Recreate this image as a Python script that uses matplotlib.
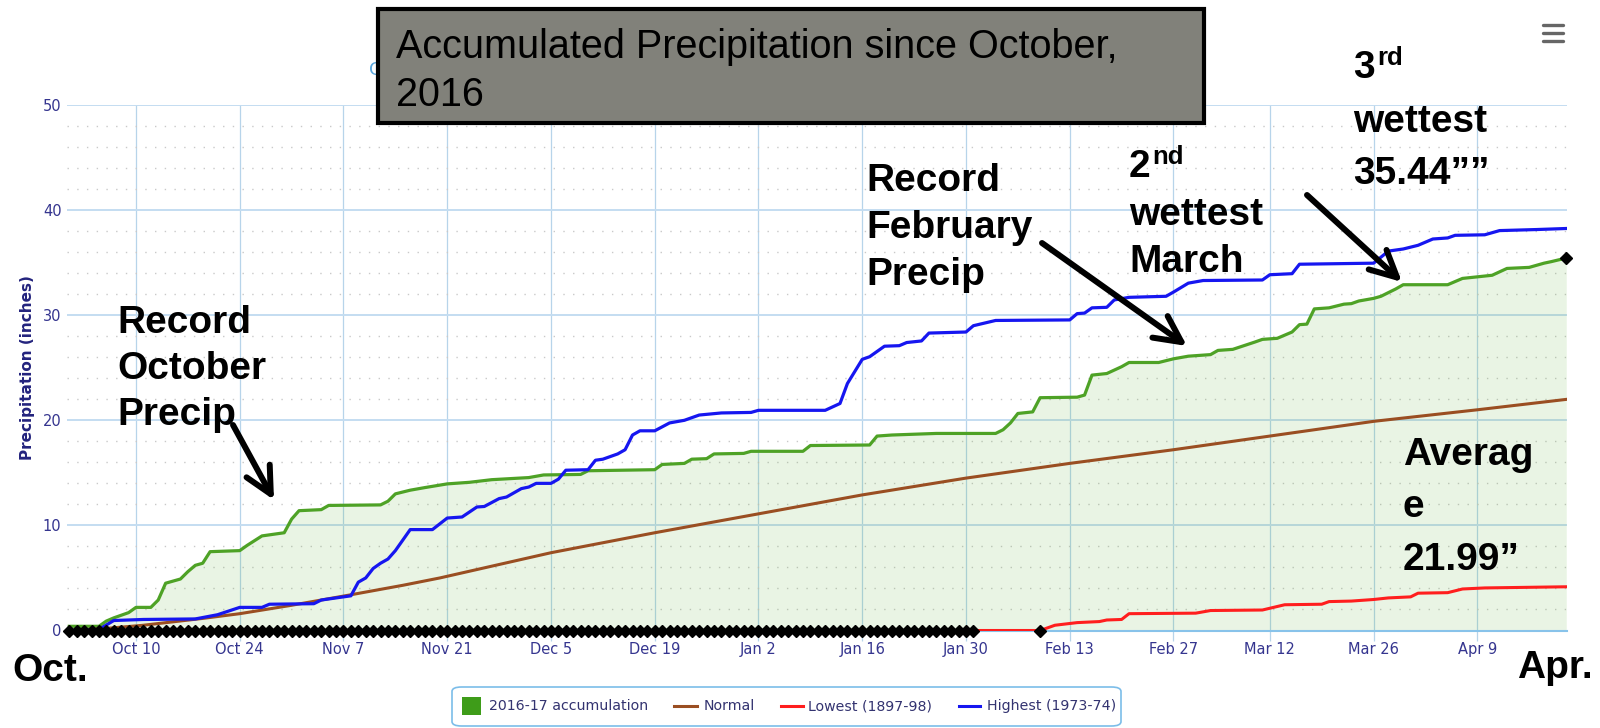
import numpy as np
import matplotlib
matplotlib.use("Agg")
import matplotlib.pyplot as plt
import matplotlib.dates as mdates
from matplotlib.patches import Rectangle, FancyBboxPatch, FancyArrowPatch
from matplotlib.lines import Line2D

# ---------------- data (days since 2016-10-01, inches) ----------------
START = "2016-10-01"

acc_days = [0, 4, 5, 6, 8, 9, 11, 12, 13, 15, 16, 17, 18, 19, 23, 24, 26, 28, 29, 30,
            31, 34, 35, 42, 43, 44, 46, 48, 51, 54, 57, 62, 64, 69, 70, 79, 80, 83, 84, 86,
            87, 91, 92, 99, 100, 108, 109, 111, 117, 125, 126, 127, 128, 130, 131, 136, 137, 138, 140, 142,
            143, 147, 149, 151, 154, 155, 157, 160, 161, 163, 165, 166, 167, 168, 170, 172, 173, 174, 176, 177,
            179, 180, 186, 188, 190, 192, 194, 197, 199, 200, 202]
acc_vals = [0.4, 0.4, 0.9, 1.2, 1.7, 2.2, 2.2, 2.9, 4.5, 4.9, 5.6, 6.2, 6.4, 7.5, 7.6, 8.1, 9.0, 9.2, 9.3, 10.6,
            11.4, 11.5, 11.9, 11.95, 12.3, 13.0, 13.35, 13.6, 13.95, 14.1, 14.35, 14.55, 14.8, 14.85, 15.2, 15.3, 15.8, 15.9, 16.3, 16.35,
            16.8, 16.85, 17.05, 17.05, 17.6, 17.65, 18.5, 18.6, 18.75, 18.75, 19.1, 19.75, 20.65, 20.8, 22.15, 22.2, 22.4, 24.3, 24.45, 25.1,
            25.5, 25.5, 25.85, 26.1, 26.25, 26.65, 26.75, 27.45, 27.7, 27.8, 28.4, 29.1, 29.15, 30.6, 30.7, 31.05, 31.1, 31.35, 31.6, 31.8,
            32.5, 32.9, 32.9, 33.5, 33.65, 33.8, 34.45, 34.55, 34.95, 35.1, 35.44]

normal_days = [0, 5, 10, 18, 23, 30, 38, 45, 50, 55, 65, 79, 93, 107, 121, 135, 149, 161, 176, 190, 202]
normal_vals = [0, 0.2, 0.5, 1.15, 1.6, 2.4, 3.4, 4.3, 5.0, 5.8, 7.4, 9.3, 11.1, 12.9, 14.5, 15.9, 17.2, 18.4, 19.9, 21.0, 21.99]

low_days = [0, 131, 133, 136, 139, 140, 142, 143, 152, 154, 161, 164, 169, 170, 173, 175, 176, 178, 181, 182, 186, 188, 191, 202]
low_vals = [0, 0, 0.5, 0.75, 0.85, 1.0, 1.05, 1.6, 1.65, 1.9, 1.95, 2.45, 2.5, 2.75, 2.8, 2.9, 2.95, 3.1, 3.2, 3.55, 3.6, 3.95, 4.05, 4.16]

high_days = [0, 4, 6, 10, 17, 20, 23, 26, 27, 33, 34, 37, 38, 39, 40, 41, 42, 43, 44, 46,
             49, 51, 53, 55, 56, 58, 59, 61, 62, 63, 65, 66, 67, 70, 71, 72, 74, 75, 76, 77,
             79, 81, 83, 85, 88, 92, 93, 102, 104, 105, 107, 108, 110, 112, 113, 115, 116, 121, 122, 125,
             135, 136, 137, 138, 140, 141, 143, 148, 149, 151, 153, 161, 162, 165, 166, 176, 178, 180, 182, 184,
             186, 187, 191, 193, 198, 202]
high_vals = [0.0, 0.1, 0.95, 1.05, 1.1, 1.5, 2.2, 2.2, 2.5, 2.55, 2.9, 3.2, 3.3, 4.6, 5.0, 5.9, 6.4, 6.8, 7.6, 9.6,
             9.6, 10.7, 10.8, 11.75, 11.8, 12.55, 12.7, 13.5, 13.65, 14.0, 14.0, 14.4, 15.25, 15.3, 16.2, 16.3, 16.8, 17.2, 18.6, 19.0,
             19.0, 19.75, 20.0, 20.5, 20.7, 20.75, 20.95, 20.95, 21.6, 23.5, 25.8, 26.05, 27.05, 27.1, 27.4, 27.55, 28.3, 28.4, 29.0, 29.5,
             29.55, 30.15, 30.2, 30.7, 30.75, 31.45, 31.7, 31.8, 32.2, 33.05, 33.3, 33.35, 33.85, 33.95, 34.85, 34.95, 36.1, 36.3, 36.65, 37.25,
             37.35, 37.6, 37.65, 38.05, 38.15, 38.25]

# black diamond markers: daily zero markers Oct 1 - Jan 31, one on Feb 9, and the final value
zero_marker_first, zero_marker_last = 0, 122
extra_marker_days = [131, 202]
extra_marker_vals = [0, 35.44]

series_names = ["2016-17 accumulation", "Normal", "Lowest (1897-98)", "Highest (1973-74)"]
series_colors = ["#4ea226", "#9a4e22", "#ff1e1e", "#1616f0"]

tick_dates = ["2016-10-10", "2016-10-24", "2016-11-07", "2016-11-21", "2016-12-05", "2016-12-19",
              "2017-01-02", "2017-01-16", "2017-01-30", "2017-02-13", "2017-02-27", "2017-03-12",
              "2017-03-26", "2017-04-09"]
tick_labels = ["Oct 10", "Oct 24", "Nov 7", "Nov 21", "Dec 5", "Dec 19", "Jan 2", "Jan 16",
               "Jan 30", "Feb 13", "Feb 27", "Mar 12", "Mar 26", "Apr 9"]
y_major = [0, 10, 20, 30, 40, 50]

title_text = "Accumulated Precipitation since October,\n2016"
y_label = "Precipitation (inches)"

# ---------------- figure ----------------
W, H = 1600, 728
fig = plt.figure(figsize=(W / 100, H / 100), dpi=100)
ax = fig.add_axes([67 / W, (H - 630.5) / H, 1500 / W, 525.5 / H])

x0 = mdates.date2num(np.datetime64(START))
def dx(days):
    return x0 + np.asarray(days, dtype=float)

ax.fill_between(dx(acc_days), acc_vals, 0, color="#5aae32", alpha=0.13, lw=0, zorder=1)
ax.plot(dx(acc_days), acc_vals, color=series_colors[0], lw=2.3, zorder=3, solid_joinstyle="round")
ax.plot(dx(normal_days), normal_vals, color=series_colors[1], lw=2.2, zorder=4)
ax.plot(dx(low_days), low_vals, color=series_colors[2], lw=2.2, zorder=5)
ax.plot(dx(high_days), high_vals, color=series_colors[3], lw=2.3, zorder=6, solid_joinstyle="round")

zero_days = np.arange(zero_marker_first, zero_marker_last + 1)
ax.plot(dx(zero_days), np.zeros(len(zero_days)), "D", color="black", ms=5.8, zorder=7, clip_on=False)
ax.plot(dx(extra_marker_days), extra_marker_vals, "D", color="black", ms=5.8, zorder=7, clip_on=False)

ax.set_xlim(x0 - 0.31, x0 + 202.1)
ax.set_ylim(0, 50)

# grid
ax.set_yticks(y_major)
ax.set_yticks([v for v in range(2, 50, 2) if v % 10], minor=True)
ax.set_xticks([mdates.date2num(np.datetime64(d)) for d in tick_dates])
ax.set_xticklabels(tick_labels)
ax.grid(axis="y", which="major", color="#c4ddf1", lw=1.4, zorder=0.5)
ax.grid(axis="y", which="minor", color="#c9c9c9", lw=1.0, linestyle=(0, (1, 6)), zorder=0.5)
ax.grid(axis="x", which="major", color="#b7d4ea", lw=0.9, zorder=0.5)
ax.set_axisbelow(True)

for s in ["top", "right", "left"]:
    ax.spines[s].set_visible(False)
ax.spines["bottom"].set_color("#88c3ea")
ax.spines["bottom"].set_linewidth(1.5)
ax.spines["bottom"].set_zorder(2)

lab_color = "#35358f"
ax.tick_params(axis="x", which="major", direction="out", length=7, width=0.9, color="#b7d4ea",
               pad=1.5, labelsize=10.5, labelcolor=lab_color)
ax.tick_params(axis="y", which="both", length=0, pad=4, labelsize=10.5, labelcolor=lab_color)
ax.set_ylabel(y_label, fontsize=11, fontweight="bold", color="#23237d")
ax.yaxis.set_label_coords(-0.0215, 0.5)

# ---------------- overlays (figure pixel coords) ----------------
def fx(x):
    return x / W
def fy(y):
    return 1 - y / H

BOLD = dict(family="Liberation Sans", fontweight="bold", color="black", va="baseline",
            ha="left", fontsize=28)

# hidden chart title letter peeking out behind the box
fig.text(fx(369), fy(75), "C", fontsize=13, color="#5aa6dc", va="baseline", zorder=1)

# title box
fig.patches.append(Rectangle((fx(378), fy(123)), (1204 - 378) / W, (123 - 9) / H,
                             transform=fig.transFigure, facecolor="#81817a",
                             edgecolor="black", lw=3.0, zorder=5))
t_lines = title_text.split("\n")
fig.text(fx(396), fy(58), t_lines[0], family="Liberation Sans", fontsize=28.5,
         color="black", va="baseline", zorder=6)
fig.text(fx(396), fy(106), t_lines[1], family="Liberation Sans", fontsize=28.5,
         color="black", va="baseline", zorder=6)

# hamburger menu icon
for yy in (25, 33, 41):
    fig.lines.append(Line2D([fx(1543), fx(1563)], [fy(yy), fy(yy)], transform=fig.transFigure,
                            color="#666666", lw=2.4, solid_capstyle="round"))

# annotations
for txt, y in (("Record", 333), ("October", 379), ("Precip", 425)):
    fig.text(fx(117), fy(y), txt, **BOLD)
for txt, y in (("Record", 191), ("February", 238), ("Precip", 285)):
    fig.text(fx(866), fy(y), txt, **BOLD)
fig.text(fx(1129), fy(177), "2", **BOLD)
fig.text(fx(1152), fy(164), "nd", **{**BOLD, "fontsize": 18.5})
for txt, y in (("wettest", 225), ("March", 272)):
    fig.text(fx(1129), fy(y), txt, **BOLD)
fig.text(fx(1353), fy(78), "3", **BOLD)
fig.text(fx(1377), fy(65), "rd", **{**BOLD, "fontsize": 18.5})
for txt, y in (("wettest", 132), ("35.44\u201d\u201d", 184)):
    fig.text(fx(1353), fy(y), txt, **BOLD)
for txt, y in (("Averag", 465), ("e", 517), ("21.99\u201d", 570)):
    fig.text(fx(1403), fy(y), txt, **BOLD)
fig.text(fx(12), fy(681), "Oct.", **BOLD)
fig.text(fx(1517), fy(678), "Apr.", **BOLD)

def arrow(x0_, y0_, x1_, y1_):
    a = FancyArrowPatch((fx(x0_), fy(y0_)), (fx(x1_), fy(y1_)), transform=fig.transFigure,
                        arrowstyle="->,head_length=1.9,head_width=0.95", mutation_scale=10,
                        lw=4.3, color="black", shrinkA=0, shrinkB=0, zorder=8)
    fig.patches.append(a)

arrow(233, 425, 274, 500)
arrow(1042, 243, 1187, 346)
arrow(1307, 195, 1402, 282)

# legend
fig.patches.append(FancyBboxPatch((fx(452), fy(726)), (1121 - 452) / W, (726 - 687) / H,
                                  boxstyle="round,pad=0,rounding_size=0.006",
                                  transform=fig.transFigure, facecolor="white",
                                  edgecolor="#7cbde9", lw=1.2, zorder=4))
leg_y = 706
fig.patches.append(Rectangle((fx(462), fy(715)), 19 / W, 18 / H, transform=fig.transFigure,
                             facecolor="#3e9c19", edgecolor="none", zorder=5))
fig.text(fx(489), fy(leg_y), series_names[0], fontsize=10.2, color="#333370", va="center", zorder=5)
for (x_a, x_b, x_t), name, col in zip([(674, 697, 704), (781, 803, 808), (959, 980, 987)],
                                      series_names[1:], series_colors[1:]):
    fig.lines.append(Line2D([fx(x_a), fx(x_b)], [fy(leg_y), fy(leg_y)], transform=fig.transFigure,
                            color=col, lw=2.2, zorder=5))
    fig.text(fx(x_t), fy(leg_y), name, fontsize=10.2, color="#333370", va="center", zorder=5)

fig.savefig("out.png", dpi=100)
